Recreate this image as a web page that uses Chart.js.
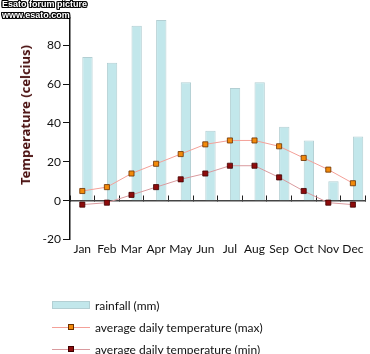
<!DOCTYPE html>
<html>
<head>
<meta charset="utf-8">
<script src="https://cdn.jsdelivr.net/npm/chart.js@4/dist/chart.umd.min.js"></script>
<style>
  body { margin: 0; background: #fff; }
  #wrap { position: relative; width: 370px; height: 354px; overflow: hidden; }
  #marca {
    position: absolute; left: 2px; top: -1px;
    font: bold 9px "Liberation Sans", sans-serif; line-height: 11px;
    color: #fff;
    text-shadow: -1px 0 #000, 1px 0 #000, 0 -1px #000, 0 1px #000, 1px 1px #000, -1px -1px #000, 1px -1px #000, -1px 1px #000;
  }
  #titulo-y {
    position: absolute; left: 25px; top: 115px;
    transform: translate(-50%, -50%) rotate(-90deg);
    white-space: nowrap;
    font: bold 13px "Noto Sans", sans-serif; color: #4a1010;
  }
  #legenda { position: absolute; left: 52px; top: 294px; font: 12px Lato, sans-serif; color: #111; }
  #legenda .item { display: flex; align-items: center; height: 22px; }
  #legenda canvas { margin-right: 5px; }
</style>
</head>
<body>
<div id="wrap">
  <canvas id="grafico" width="370" height="354"></canvas>
  <div id="marca">Esato forum picture<br>www.esato.com</div>
  <div id="titulo-y">Temperature (celcius)</div>
  <div id="legenda"></div>
</div>

<script>
const meses = ["Jan", "Feb", "Mar", "Apr", "May", "Jun", "Jul", "Aug", "Sep", "Oct", "Nov", "Dec"];
const chuva = [74, 71, 90, 93, 61, 36, 58, 61, 38, 31, 10, 33];
const tempMax = [5, 7, 14, 19, 24, 29, 31, 31, 28, 22, 16, 9];
const tempMin = [-2, -1, 3, 7, 11, 14, 18, 18, 12, 5, -1, -2];
const ticksY = [-20, 0, 20, 40, 60, 80];

const fonte = 'Lato, sans-serif';

const ctx = document.getElementById("grafico").getContext("2d");

const chart = new Chart(ctx, {
  data: {
    labels: meses,
    datasets: [
      {
        // espaço vazio, empurra as barras para a direita do mês
        type: 'bar',
        label: '',
        data: meses.map(() => null),
        order: 2
      },
      {
        type: 'bar',
        label: 'rainfall (mm)',
        data: chuva,
        backgroundColor: '#c2e7eb',
        borderColor: '#b3cfd3',
        borderWidth: 1,
        order: 3
      },
      {
        type: 'line',
        label: 'average daily temperature (max)',
        data: tempMax,
        borderColor: '#f4a098',
        borderWidth: 1,
        pointStyle: 'rect',
        pointRadius: 3.6,
        pointBackgroundColor: '#f28a0a',
        pointBorderColor: '#6a3000',
        pointBorderWidth: 0.8,
        tension: 0,
        order: 1
      },
      {
        type: 'line',
        label: 'average daily temperature (min)',
        data: tempMin,
        borderColor: '#d99a9e',
        borderWidth: 1,
        pointStyle: 'rect',
        pointRadius: 3.6,
        pointBackgroundColor: '#8e0c0c',
        pointBorderColor: '#400000',
        pointBorderWidth: 0.8,
        tension: 0,
        order: 0
      }
    ]
  },
  options: {
    responsive: false,
    animation: false,
    layout: { padding: { top: 18, right: 1, bottom: 96, left: 0 } },
    datasets: {
      bar: { categoryPercentage: 0.84, barPercentage: 1 }
    },
    plugins: {
      legend: { display: false },
      tooltip: { enabled: false }
    },
    scales: {
      x: {
        type: 'category',
        offset: true,
        grid: { display: false, drawTicks: false },
        border: { display: false },
        ticks: { color: '#111', font: { family: fonte, size: 12 }, padding: 2, maxRotation: 0, autoSkip: false }
      },
      x0: {
        type: 'category',
        position: { y: 0 },
        offset: true,
        grid: { offset: true, drawOnChartArea: false, drawTicks: true, tickLength: -6, color: '#222', lineWidth: 1 },
        border: { display: true, color: '#444', width: 1.5 },
        ticks: { display: false },
        afterFit: (s) => { s.height = 0; }
      },
      y: {
        min: -20,
        max: 94,
        grid: { drawOnChartArea: false, tickLength: 7, color: '#111', lineWidth: 1 },
        border: { color: '#111', width: 1.5 },
        afterBuildTicks: (s) => { s.ticks = ticksY.map(v => ({ value: v })); },
        ticks: { color: '#111', font: { family: fonte, size: 12 }, padding: 2 },
        afterFit: (s) => { s.width = 70; }
      }
    }
  }
});

// legenda em html, desenhada a partir dos datasets
function amostra(ds) {
  const c = document.createElement("canvas");
  c.width = 38; c.height = 10;
  const g = c.getContext("2d");
  if (ds.type === 'bar') {
    g.fillStyle = ds.backgroundColor;
    g.fillRect(0, 1, 38, 8);
    g.strokeStyle = ds.borderColor;
    g.strokeRect(0.5, 1.5, 37, 7);
  } else {
    g.strokeStyle = ds.borderColor;
    g.lineWidth = 1;
    g.beginPath(); g.moveTo(0, 5.5); g.lineTo(38, 5.5); g.stroke();
    g.fillStyle = ds.pointBackgroundColor;
    g.fillRect(17, 3, 5, 5);
    g.strokeStyle = ds.pointBorderColor;
    g.strokeRect(16.5, 2.5, 5, 5);
  }
  return c;
}

const leg = document.getElementById("legenda");
chart.data.datasets.filter(ds => ds.label).forEach(ds => {
  const item = document.createElement("div");
  item.className = "item";
  item.appendChild(amostra(ds));
  const t = document.createElement("span");
  t.textContent = ds.label;
  item.appendChild(t);
  leg.appendChild(item);
});
</script>
</body>
</html>
